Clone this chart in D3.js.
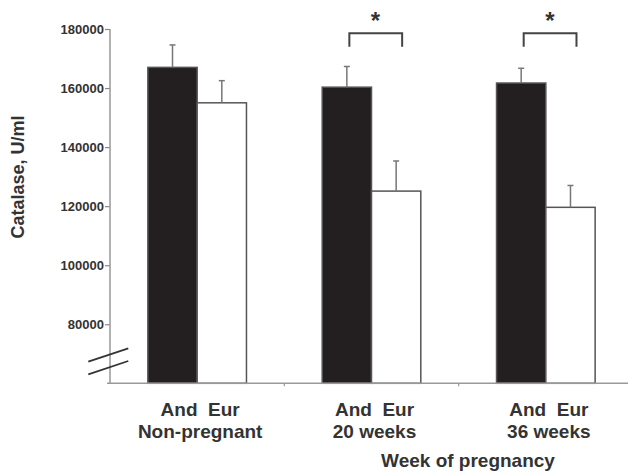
<!DOCTYPE html>
<html><head><meta charset="utf-8">
<script src="https://cdn.jsdelivr.net/npm/d3@7"></script>
<style>
html,body{margin:0;padding:0;background:#fff;}
text{font-family:"Liberation Sans",Arial,sans-serif;font-weight:bold;}
</style></head>
<body><svg id="c" width="628" height="473"></svg>
<script>
const groups = ["Non-pregnant", "20 weeks", "36 weeks"];
const series = ["And", "Eur"];
const andMeans = [167000, 160300, 161700];
const andSD = [7600, 7000, 5000];
const eurMeans = [155000, 125100, 119600];
const eurSD = [7500, 10200, 7400];
const significant = [false, true, true];
const yTicks = [80000, 100000, 120000, 140000, 160000, 180000];
const yLabel = "Catalase, U/ml";
const xTitle = "Week of pregnancy";

const svg = d3.select("#c");
const pLeft = 110, pRight = 633, pTop = 29, pBase = 383.3;
const y = d3.scaleLinear().domain([60000, 180000]).range([pBase, pTop]);
const x0 = d3.scaleBand().domain(groups).range([pLeft, pRight]).padding(0);
const barW = 49.3;
const x1 = d3.scaleBand().domain(series)
  .range([x0.bandwidth()/2 - barW, x0.bandwidth()/2 + barW]).padding(0);

const data = groups.map((g, i) => ({
  g, sig: significant[i],
  bars: [
    {s: "And", v: andMeans[i], sd: andSD[i]},
    {s: "Eur", v: eurMeans[i], sd: eurSD[i]}
  ]
}));

// y axis
const yAxis = d3.axisLeft(y).tickValues(yTicks).tickSize(5).tickPadding(1)
  .tickFormat(d3.format("d"));
const yaG = svg.append("g").attr("transform", `translate(${pLeft},0)`).call(yAxis);
yaG.select(".domain").remove();
yaG.selectAll(".tick line").attr("stroke", "#888").attr("stroke-width", 1.2);
yaG.selectAll(".tick text").attr("fill", "#333").style("font-size", "13px")
  .style("font-family", "'Liberation Sans', Arial, sans-serif").style("font-weight", "bold");
svg.append("line").attr("x1", pLeft).attr("x2", pLeft).attr("y1", pTop).attr("y2", pBase)
  .attr("stroke", "#999").attr("stroke-width", 1.5);

// bars
const gg = svg.selectAll("g.grp").data(data).join("g").attr("class", "grp")
  .attr("transform", d => `translate(${x0(d.g)},0)`);
gg.selectAll("rect").data(d => d.bars).join("rect")
  .attr("x", d => x1(d.s)).attr("width", x1.bandwidth())
  .attr("y", d => y(d.v)).attr("height", d => pBase - y(d.v))
  .attr("fill", d => d.s === "And" ? "#231f20" : "#fff")
  .attr("stroke", "#555")
  .attr("stroke-width", 1.5);

// error bars
const eb = gg.selectAll("g.eb").data(d => d.bars).join("g").attr("class", "eb");
eb.append("line")
  .attr("x1", d => x1(d.s) + x1.bandwidth()/2).attr("x2", d => x1(d.s) + x1.bandwidth()/2)
  .attr("y1", d => y(d.v)).attr("y2", d => y(d.v + d.sd))
  .attr("stroke", "#777").attr("stroke-width", 1.5);
eb.append("line")
  .attr("x1", d => x1(d.s) + x1.bandwidth()/2 - 3).attr("x2", d => x1(d.s) + x1.bandwidth()/2 + 3)
  .attr("y1", d => y(d.v + d.sd)).attr("y2", d => y(d.v + d.sd))
  .attr("stroke", "#777").attr("stroke-width", 1.5);

// x axis
svg.append("line").attr("x1", pLeft - 3).attr("x2", 628).attr("y1", pBase).attr("y2", pBase)
  .attr("stroke", "#999").attr("stroke-width", 1.5);
groups.slice(1).forEach(g => {
  svg.append("line").attr("x1", x0(g)).attr("x2", x0(g)).attr("y1", pBase).attr("y2", pBase + 3)
    .attr("stroke", "#999").attr("stroke-width", 1.2);
});

// break marks
[[361.7, 348.3], [374.3, 361]].forEach(([a, b]) => {
  svg.append("line").attr("x1", 88.3).attr("x2", 128.3).attr("y1", a).attr("y2", b)
    .attr("stroke", "#333").attr("stroke-width", 1.8);
});

// significance brackets
const sg = gg.filter(d => d.sig);
sg.append("path")
  .attr("d", d => {
    const a = x1("And") + x1.bandwidth()/2 + 2.5, b = x1("Eur") + x1.bandwidth()/2 + 6;
    return `M${a},46.7V33.3H${b}V46.7`;
  })
  .attr("fill", "none").attr("stroke", "#444").attr("stroke-width", 2);
sg.append("text")
  .attr("x", x0.bandwidth()/2 + 4).attr("y", 29)
  .attr("text-anchor", "middle").style("font-size", "24px").attr("fill", "#333").text("*");

// x labels
gg.append("text").attr("x", x0.bandwidth()/2 + 3).attr("y", 416)
  .attr("text-anchor", "middle").style("font-size", "19px").attr("fill", "#333")
  .attr("xml:space", "preserve").style("white-space", "pre").text(series.join("  "));
gg.append("text").attr("x", x0.bandwidth()/2 + 3).attr("y", 438)
  .attr("text-anchor", "middle").style("font-size", "19px").attr("fill", "#333").text(d => d.g);

svg.append("text").attr("x", 468).attr("y", 467).attr("text-anchor", "middle")
  .style("font-size", "19px").attr("fill", "#333").text(xTitle);

svg.append("text").attr("transform", "translate(24,177) rotate(-90)")
  .attr("text-anchor", "middle").style("font-size", "18px").attr("fill", "#333").text(yLabel);
</script></body></html>
